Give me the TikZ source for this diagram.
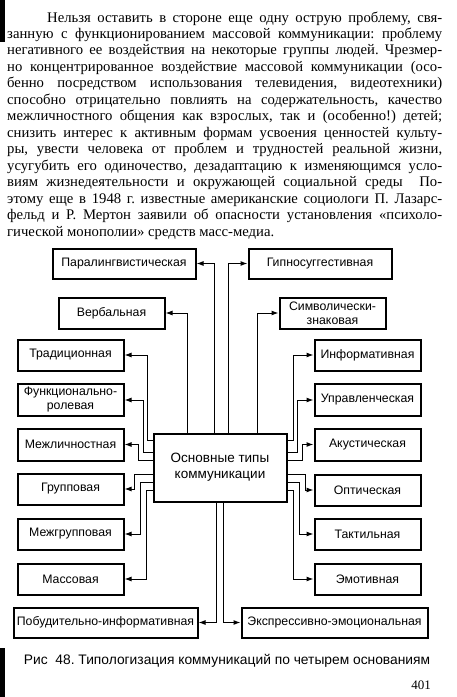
\documentclass[tikz,border=0pt]{standalone}
\usepackage{fontspec}
\setmainfont{Liberation Serif}
\newfontfamily\sansf{Liberation Sans}
\usetikzlibrary{arrows.meta}
\frenchspacing
\begin{document}
\begin{tikzpicture}[x=1pt,y=-1pt,
  box/.style={draw, line width=2pt, inner sep=0pt, align=center, font=\sansf\fontsize{12.3}{14}\selectfont},
  sbox/.style={box, minimum width=106pt, minimum height=31pt},
  arr/.style={-{Latex[length=7pt,width=5pt]}, line width=1pt},
  pline/.style={anchor=base west, inner sep=0pt, font=\fontsize{14.7}{16}\selectfont}]
\useasboundingbox (0,0) rectangle (456,697);
\fill (0,0) rectangle (5,42);
\fill (0,648) rectangle (5,697);
% paragraph
\node[pline] (p1) at (47,22) {\makebox[395pt][s]{Нельзя оставить в стороне еще одну острую проблему, свя-}};
\node[pline] (p2) at (7,38.5) {\makebox[435pt][s]{занную с функционированием массовой коммуникации: проблему}};
\node[pline] (p3) at (7,54.9) {\makebox[435pt][s]{негативного ее воздействия на некоторые группы людей. Чрезмер-}};
\node[pline] (p4) at (7,71.4) {\makebox[435pt][s]{но концентрированное воздействие массовой коммуникации (осо-}};
\node[pline] (p5) at (7,87.8) {\makebox[435pt][s]{бенно посредством использования телевидения, видеотехники)}};
\node[pline] (p6) at (7,104.3) {\makebox[435pt][s]{способно отрицательно повлиять на содержательность, качество}};
\node[pline] (p7) at (7,120.8) {\makebox[435pt][s]{межличностного общения как взрослых, так и (особенно!) детей;}};
\node[pline] (p8) at (7,137.2) {\makebox[435pt][s]{снизить интерес к активным формам усвоения ценностей культу-}};
\node[pline] (p9) at (7,153.7) {\makebox[435pt][s]{ры, увести человека от проблем и трудностей реальной жизни,}};
\node[pline] (p10) at (7,170.1) {\makebox[435pt][s]{усугубить его одиночество, дезадаптацию к изменяющимся усло-}};
\node[pline] (p11) at (7,186.6) {\makebox[435pt][s]{виям жизнедеятельности и окружающей социальной среды\ \ По-}};
\node[pline] (p12) at (7,203.1) {\makebox[435pt][s]{этому еще в 1948 г. известные американские социологи П. Лазарс-}};
\node[pline] (p13) at (7,219.5) {\makebox[435pt][s]{фельд и Р. Мертон заявили об опасности установления «психоло-}};
\node[pline] (p14) at (7,236) {гической монополии» средств масс-медиа.};
% boxes
\node[box, minimum width=143pt, minimum height=30pt] (par) at (124,263.5) {Паралингвистическая};
\node[box, minimum width=143pt, minimum height=30pt] (hyp) at (320,263.5) {Гипносуггестивная};
\node[sbox] (verb) at (111.5,313) {Вербальная};
\node[sbox] (symb) at (332.5,313) {Символически-\\знаковая};
\node[sbox] (trad) at (70.5,355) {Традиционная};
\node[sbox] (info) at (367.5,355) {Информативная};
\node[sbox, minimum height=32pt] (func) at (70.5,400) {Функционально-\\ролевая};
\node[sbox, minimum height=32pt] (upr) at (367.5,400) {Управленческая};
\node[sbox, minimum height=32pt] (mezl) at (70.5,444.5) {Межличностная};
\node[sbox, minimum height=32pt] (aku) at (367.5,444.5) {Акустическая};
\node[sbox] (grp) at (70.5,489) {Групповая};
\node[sbox] (opt) at (367.5,490) {Оптическая};
\node[sbox] (mgr) at (70.5,534) {Межгрупповая};
\node[sbox] (tak) at (367.5,534) {Тактильная};
\node[sbox] (mas) at (70.5,579) {Массовая};
\node[sbox] (emo) at (367.5,579) {Эмотивная};
\node[box, minimum width=184pt, minimum height=30pt] (pob) at (105.5,622.5) {Побудительно-информативная};
\node[box, minimum width=186pt, minimum height=30pt] (eks) at (334.5,622.5) {Экспрессивно-эмоциональная};
\node[box, minimum width=133pt, minimum height=68pt, font=\sansf\fontsize{13.5}{16}\selectfont] (cen) at (220,467.5) {Основные типы\\коммуникации};
% routing coordinates
\coordinate (kV) at (187,0);
\coordinate (kP) at (214,0);
\coordinate (kH) at (228,0);
\coordinate (kS) at (257,0);
\coordinate (kB1) at (216,0);
\coordinate (kB2) at (223,0);
\coordinate (lT) at (147,440);
\coordinate (lF) at (143,452);
\coordinate (lM) at (138,460);
\coordinate (lG) at (134,474);
\coordinate (lR) at (140,482);
\coordinate (lS) at (146,490);
\coordinate (rI) at (293,440);
\coordinate (rU) at (297,452);
\coordinate (rA) at (302,460);
\coordinate (rO) at (305,474);
\coordinate (rT) at (299,482);
\coordinate (rE) at (293,490);
% connectors
\draw[arr] (cen.north -| kV) |- (verb.east);
\draw[arr] (cen.north -| kP) |- (par.east);
\draw[arr] (cen.north -| kH) |- (hyp.west);
\draw[arr] (cen.north -| kS) |- (symb.west);
\draw[arr] (cen.south -| kB1) |- (pob.east);
\draw[arr] (cen.south -| kB2) |- (eks.west);
\draw[arr] (cen.west |- lT) -- (lT) |- (trad.east);
\draw[arr] (cen.west |- lF) -- (lF) |- (func.east);
\draw[arr] (cen.west |- lM) -- (lM) |- (mezl.east);
\draw[arr] (cen.west |- lG) -- (lG) |- (grp.east);
\draw[arr] (cen.west |- lR) -- (lR) |- (mgr.east);
\draw[arr] (cen.west |- lS) -- (lS) |- (mas.east);
\draw[arr] (cen.east |- rI) -- (rI) |- (info.west);
\draw[arr] (cen.east |- rU) -- (rU) |- (upr.west);
\draw[arr] (cen.east |- rA) -- (rA) |- (aku.west);
\draw[arr] (cen.east |- rO) -- (rO) |- (opt.west);
\draw[arr] (cen.east |- rT) -- (rT) |- (tak.west);
\draw[arr] (cen.east |- rE) -- (rE) |- (emo.west);
% caption
\node[inner sep=0pt, font=\sansf\fontsize{13.8}{16}\selectfont] (cap) at (227,661) {Рис\ \ 48. Типологизация коммуникаций по четырем основаниям};
\node[anchor=base east, inner sep=0pt, font=\fontsize{13}{15}\selectfont] (pg) at (431,689) {401};
\end{tikzpicture}
\end{document}
